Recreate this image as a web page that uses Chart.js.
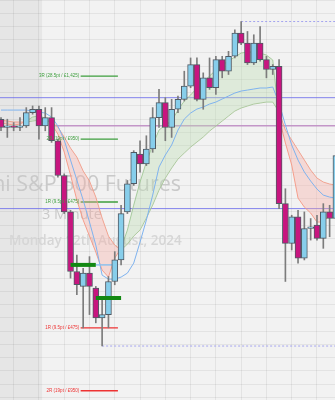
<!DOCTYPE html>
<html>
<head>
<meta charset="utf-8">
<script src="https://cdn.jsdelivr.net/npm/chart.js@4.4.0/dist/chart.umd.min.js"></script>
<style>
  html, body { margin: 0; padding: 0; background: #f2f2f2; }
  #wrap { width: 335px; height: 400px; position: relative; }
</style>
</head>
<body>
<div id="wrap"><canvas id="chart"></canvas></div>
<script>
// 3 minute bars, E-mini S&P 500
const opens  = [5358.0, 5356.75, 5357.0, 5356.75, 5357.0, 5359.0, 5359.5, 5357.0, 5358.25, 5354.75, 5349.5, 5344.0, 5335.0, 5332.75, 5334.75, 5332.5, 5328.0, 5328.5, 5333.5, 5336.75, 5344.0, 5348.25, 5352.75, 5351.25, 5353.5, 5358.25, 5360.5, 5356.75, 5359.5, 5361.0, 5363.0, 5366.25, 5361.0, 5364.25, 5362.75, 5367.0, 5365.25, 5367.5, 5371.0, 5369.5, 5366.5, 5369.5, 5367.0, 5365.5, 5366.0, 5345.25, 5339.25, 5343.25, 5337.0, 5341.5, 5342.0, 5340.0, 5344.0, 5343.0];
const highs  = [5358.25, 5358.0, 5357.5, 5358.25, 5359.75, 5360.0, 5360.0, 5359.75, 5359.75, 5355.0, 5349.75, 5344.25, 5337.5, 5335.5, 5337.25, 5332.75, 5330.75, 5334.25, 5338.0, 5345.0, 5348.75, 5353.25, 5354.75, 5355.5, 5359.75, 5362.5, 5361.25, 5361.0, 5361.5, 5365.25, 5367.25, 5367.25, 5365.0, 5367.25, 5367.5, 5367.5, 5368.25, 5371.5, 5372.75, 5371.25, 5370.75, 5372.0, 5367.5, 5366.25, 5367.0, 5347.5, 5343.5, 5344.25, 5344.0, 5343.0, 5343.5, 5345.25, 5345.0, 5353.25];
const lows   = [5356.25, 5355.25, 5356.25, 5356.25, 5356.75, 5358.75, 5355.0, 5356.25, 5354.5, 5349.25, 5343.75, 5334.0, 5331.5, 5326.5, 5328.5, 5327.25, 5323.75, 5326.5, 5333.0, 5336.0, 5343.75, 5348.0, 5350.0, 5351.0, 5353.0, 5356.75, 5354.75, 5355.25, 5359.0, 5360.75, 5362.75, 5360.75, 5359.5, 5362.5, 5361.75, 5364.25, 5364.75, 5367.25, 5369.25, 5366.25, 5366.25, 5366.75, 5364.25, 5364.75, 5344.5, 5333.5, 5338.25, 5336.25, 5336.75, 5339.75, 5339.75, 5338.5, 5340.25, 5342.75];
const closes = [5356.75, 5357.0, 5356.75, 5357.0, 5359.0, 5359.5, 5357.0, 5358.25, 5354.75, 5349.5, 5344.0, 5335.0, 5333.0, 5334.75, 5332.75, 5328.0, 5328.5, 5333.5, 5336.75, 5343.75, 5348.25, 5353.0, 5351.25, 5353.5, 5358.25, 5360.5, 5356.75, 5359.5, 5361.0, 5363.0, 5366.25, 5361.0, 5364.25, 5362.75, 5367.0, 5365.25, 5367.5, 5371.0, 5369.5, 5366.5, 5369.5, 5367.0, 5365.5, 5366.0, 5345.25, 5339.25, 5343.25, 5337.0, 5341.5, 5341.75, 5340.0, 5344.0, 5343.0, 5352.5];

// ribbon (fast / slow) and the blue average
const fastLine = [5357.42, 5357.27, 5357.12, 5357.27, 5357.72, 5358.33, 5358.48, 5358.18, 5357.27, 5355.76, 5353.04, 5349.56, 5345.79, 5342.77, 5340.35, 5337.93, 5335.21, 5334.16, 5337.03, 5338.54, 5341.26, 5345.03, 5348.51, 5351.53, 5354.10, 5356.36, 5357.12, 5357.72, 5359.38, 5360.74, 5361.65, 5362.71, 5363.61, 5364.52, 5365.43, 5366.18, 5366.79, 5367.39, 5367.99, 5368.15, 5368.15, 5367.99, 5367.69, 5366.94, 5358.18, 5354.40, 5351.08, 5346.09, 5344.73, 5343.83, 5342.47, 5342.47, 5343.52, 5344.28];
const slowLine = [5357.87, 5357.72, 5357.57, 5357.57, 5357.57, 5357.72, 5357.87, 5357.87, 5357.57, 5356.82, 5355.31, 5353.64, 5352.28, 5350.17, 5348.66, 5346.24, 5343.07, 5340.35, 5338.99, 5338.24, 5339.14, 5340.35, 5341.26, 5343.07, 5345.03, 5347.30, 5349.11, 5350.62, 5351.98, 5352.89, 5353.79, 5354.55, 5355.31, 5356.21, 5356.97, 5357.72, 5358.48, 5359.23, 5359.69, 5359.99, 5360.29, 5360.44, 5360.59, 5360.59, 5359.08, 5356.36, 5354.85, 5353.34, 5351.83, 5350.32, 5349.11, 5348.51, 5348.21, 5348.05];
const blueLine = [5359.38, 5359.38, 5359.38, 5359.38, 5359.38, 5359.23, 5359.08, 5358.93, 5358.33, 5356.97, 5354.85, 5351.83, 5348.81, 5345.79, 5342.47, 5338.99, 5334.46, 5333.85, 5333.85, 5334.16, 5334.76, 5336.27, 5339.44, 5342.77, 5346.54, 5350.77, 5352.59, 5354.10, 5356.36, 5358.02, 5358.93, 5359.53, 5359.84, 5360.29, 5360.59, 5361.05, 5361.50, 5361.95, 5362.25, 5362.40, 5362.56, 5362.71, 5362.71, 5362.86, 5360.44, 5357.12, 5354.10, 5351.83, 5350.02, 5348.66, 5347.45, 5346.54, 5346.24, 5346.09];

// trade
const entryPrice = 5336.0;
const exitPrice = 5331.0;
const entryBars = [11, 15];
const exitBars = [15, 19];
const targetLevels = [5345.5, 5355.0, 5364.5];
const targetLabels = ['1R (9.5pt / £475)', '2R (19pt / £950)', '3R (28.5pt / £1,425)'];
const stopLevels = [5326.5, 5317.0];
const stopLabels = ['1R (9.5pt / £475)', '2R (19pt / £950)'];
const levelBars = [12.6, 18.5];

// reference lines
const blueLevels = [5361.25, 5344.5];
const purpleLevel = 5357.0;
const purpleFrom = 8.25;
const sessionHigh = 5372.75, highBar = 38;
const sessionLow = 5323.75, lowBar = 16;
const sessionOpenBar = 6.5;

const UP = '#87ceeb', DOWN = '#c8157f', EDGE = '#505a64', WICK = '#7c7c7c';
const GREEN_EDGE = 'rgba(160,200,150,0.9)', RED_EDGE = 'rgba(245,150,130,0.9)';

const xMin = -0.16, xMax = 52.85;
const hline = (y, from, to) => [{x: from, y: y}, {x: to, y: y}];

const datasets = [];
// candle bodies
datasets.push({
    type: 'bar',
    data: opens.map((o, i) => ({x: i, y: [o, closes[i]]})),
    backgroundColor: opens.map((o, i) => closes[i] >= o ? UP : DOWN),
    borderColor: EDGE,
    borderWidth: 1,
    borderSkipped: false,
    barThickness: 6,
    grouped: false,
    order: 1
});
// wicks
datasets.push({
    type: 'bar',
    data: lows.map((l, i) => ({x: i, y: [l, highs[i]]})),
    backgroundColor: WICK,
    borderWidth: 0,
    barThickness: 1,
    grouped: false,
    order: 2
});
// entry / exit markers
datasets.push({type: 'line', data: hline(entryPrice, entryBars[0], entryBars[1]), borderColor: '#128812', borderWidth: 4, order: 0});
datasets.push({type: 'line', data: hline(exitPrice, exitBars[0], exitBars[1]), borderColor: '#128812', borderWidth: 4, order: 0});
datasets.push({type: 'line', data: hline(entryPrice, 15, 17.7), borderColor: '#8ec1ee', borderWidth: 1.5, order: 3});
// R levels
targetLevels.forEach(v => datasets.push({type: 'line', data: hline(v, levelBars[0], levelBars[1]), borderColor: '#3d9e3d', borderWidth: 1.3, order: 6}));
stopLevels.forEach(v => datasets.push({type: 'line', data: hline(v, levelBars[0], levelBars[1]), borderColor: '#ee3333', borderWidth: 1.3, order: 6}));
// blue average
datasets.push({type: 'line', data: blueLine.map((v, i) => ({x: i, y: v})), borderColor: '#7fb3ef', borderWidth: 1, order: 4});
// ribbon
const fastIdx = datasets.length;
const slowIdx = fastIdx + 1;
const ribbonColor = c => (fastLine[c.p0DataIndex] + fastLine[c.p1DataIndex] >= slowLine[c.p0DataIndex] + slowLine[c.p1DataIndex]) ? GREEN_EDGE : RED_EDGE;
datasets.push({
    type: 'line',
    data: fastLine.map((v, i) => ({x: i, y: v})),
    borderColor: GREEN_EDGE,
    borderWidth: 1,
    segment: {borderColor: ribbonColor},
    fill: {target: slowIdx, above: 'rgba(190,220,180,0.38)', below: 'rgba(250,170,160,0.35)'},
    order: 5
});
datasets.push({
    type: 'line',
    data: slowLine.map((v, i) => ({x: i, y: v})),
    borderColor: GREEN_EDGE,
    borderWidth: 1,
    segment: {borderColor: ribbonColor},
    order: 5
});
// horizontal reference lines
blueLevels.forEach(v => datasets.push({type: 'line', data: hline(v, -1, 60), borderColor: 'rgba(110,110,235,0.85)', borderWidth: 1, order: 7}));
datasets.push({type: 'line', data: hline(purpleLevel, purpleFrom, 60), borderColor: 'rgba(190,140,195,0.9)', borderWidth: 1.5, order: 7});
datasets.push({type: 'line', data: hline(sessionHigh, highBar, 60), borderColor: '#a4a4ee', borderWidth: 1, borderDash: [2, 2], order: 7});
datasets.push({type: 'line', data: hline(sessionLow, lowBar, 60), borderColor: '#a4a4ee', borderWidth: 1, borderDash: [2, 2], order: 7});

const backdrop = {
    id: 'backdrop',
    beforeDraw(chart) {
        const {ctx, scales: {x}} = chart;
        ctx.save();
        ctx.fillStyle = '#f2f2f2';
        ctx.fillRect(0, 0, chart.width, chart.height);
        ctx.fillStyle = '#e6e6e6';
        ctx.fillRect(0, 0, x.getPixelForValue(sessionOpenBar), chart.height);
        ctx.restore();
    },
    beforeDatasetsDraw(chart) {
        const ctx = chart.ctx;
        ctx.save();
        ctx.textBaseline = 'alphabetic';
        ctx.fillStyle = '#c9c9c9';
        ctx.textAlign = 'right';
        ctx.font = '21.5px "Open Sans"';
        ctx.fillText('E-mini S&P 500 Futures', 181, 191);
        ctx.textAlign = 'left';
        ctx.font = '14.5px "Open Sans"';
        ctx.fillText('3 Minute', 42, 219);
        ctx.fillStyle = '#d6d6d6';
        ctx.font = '600 13.5px "Open Sans"';
        ctx.fillText('Monday 12th August, 2024', 9, 245);
        ctx.restore();
    },
    afterDatasetsDraw(chart) {
        const {ctx, scales: {x, y}} = chart;
        const right = x.getPixelForValue(levelBars[0]) - 1.5;
        ctx.save();
        ctx.font = '4.5px "Liberation Sans"';
        ctx.textAlign = 'right';
        ctx.textBaseline = 'middle';
        ctx.fillStyle = '#3d9e3d';
        targetLevels.forEach((v, i) => ctx.fillText(targetLabels[i], right, y.getPixelForValue(v)));
        ctx.fillStyle = '#ee3333';
        stopLevels.forEach((v, i) => ctx.fillText(stopLabels[i], right, y.getPixelForValue(v)));
        ctx.restore();
    }
};

new Chart(document.getElementById('chart'), {
    type: 'line',
    data: {datasets: datasets},
    options: {
        responsive: true,
        maintainAspectRatio: false,
        animation: false,
        events: [],
        layout: {padding: 0},
        elements: {point: {radius: 0}, line: {tension: 0}},
        scales: {
            x: {
                type: 'linear',
                min: xMin,
                max: xMax,
                offset: false,
                afterBuildTicks: s => { s.ticks = []; for (let v = 2; v <= 52; v += 4) s.ticks.push({value: v}); },
                ticks: {display: false},
                grid: {color: 'rgba(0,0,0,0.06)', drawTicks: false, offset: false},
                border: {display: false}
            },
            y: {
                type: 'linear',
                min: 5315.6,
                max: 5376,
                beginAtZero: false,
                afterBuildTicks: s => { s.ticks = []; for (let v = 5316; v <= 5376; v += 2) s.ticks.push({value: v}); },
                ticks: {display: false},
                grid: {color: 'rgba(0,0,0,0.06)', drawTicks: false},
                border: {display: false}
            }
        },
        plugins: {
            legend: {display: false},
            tooltip: {enabled: false}
        }
    },
    plugins: [backdrop]
});
</script>
</body>
</html>
